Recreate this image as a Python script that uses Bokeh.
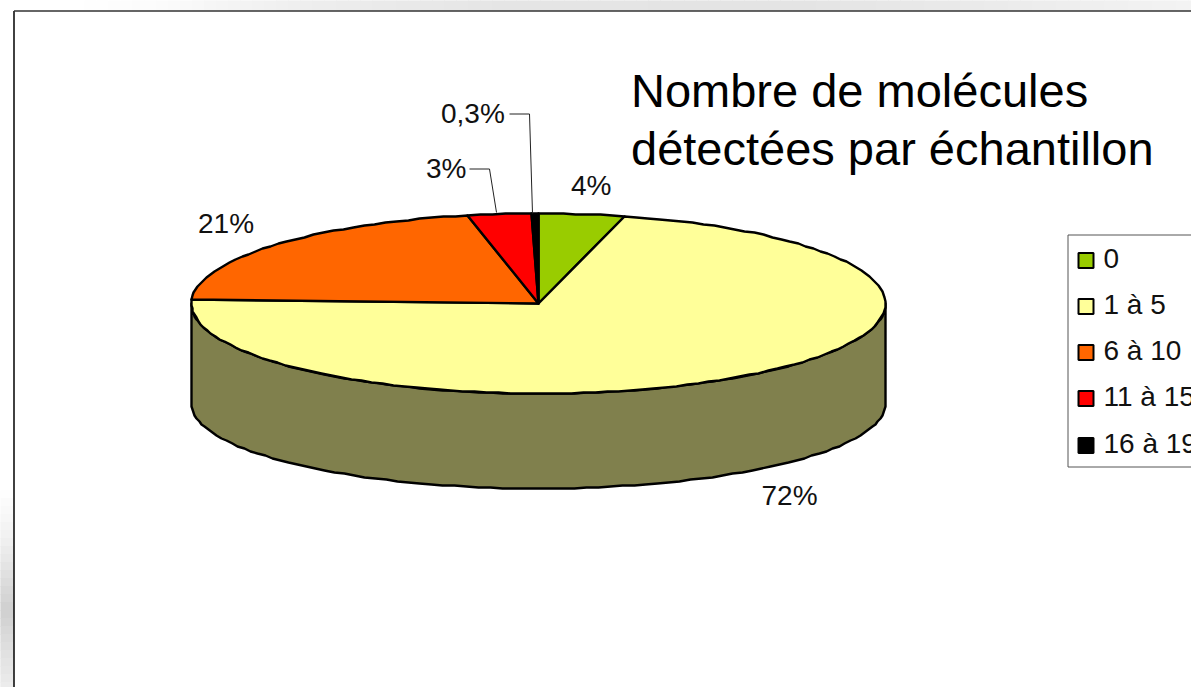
import numpy as np
from bokeh.plotting import figure
from bokeh.models import Range1d
from bokeh.core.properties import value
from bokeh.embed import file_html
from bokeh.resources import INLINE

# --- data ---
categories = ["0", "1 à 5", "6 à 10", "11 à 15", "16 à 19"]
shares = [4, 72, 21, 3, 0.3]
share_labels = ["4%", "72%", "21%", "3%", "0,3%"]
title_lines = ["Nombre de molécules", "détectées par échantillon"]

# --- styles ---
slice_colors = ["#99CC00", "#FFFF99", "#FF6600", "#FF0000", "#000000"]
side_colors = ["#4D6600", "#80804D", "#803300", "#800000", "#000000"]
FONT = value("Liberation Sans")

# --- layout (picture pixels) ---
W, H = 1191, 687
CX, CY, RX, RY = 538, 303, 347, 90
BOTTOM_CY, BOTTOM_RY = 403, 85
STEP_DEG = 2
label_x = [570.5, 761, 197.5, 425.5, 440.5]
label_y = [184.5, 495, 223, 168, 113]
leaders = {3: ([469, 489, 496], [168.5, 168.5, 212]), 4: ([509, 529, 532], [113.5, 113.5, 213])}
title_x, title_y = 630.5, [90, 148]
legend_left, legend_top, legend_bottom = 1067.5, 234.5, 466.5
swatch_x, swatch_size = 1085.5, 15
legend_y = [260, 306, 352, 398, 445]
legend_text_x, legend_text_y = 1103, [258, 304, 350, 396, 443]
top_stops = ([0, 70, 150, 300, 500, 800, 1000, 1191], [255, 255, 252, 238, 229, 228, 235, 243])
left_stops = ([490, 540, 610, 650, 687], [255, 240, 207, 224, 236])

p = figure(width=W, height=H, output_backend="svg", toolbar_location=None,
           x_range=Range1d(0, W), y_range=Range1d(H, 0), min_border=0,
           outline_line_color=None, background_fill_color="white",
           border_fill_color="white")
p.axis.visible = False
p.grid.visible = False


def grey(v):
    v = int(round(v))
    return f"#{v:02x}{v:02x}{v:02x}"


# page shadow outside the frame
xs = np.arange(0, W, 12)
top_colors = [grey(g) for g in np.interp(xs + 6, *top_stops)]
p.quad(left=xs, right=xs + 12, top=0, bottom=10, fill_color=top_colors, line_color=top_colors, line_width=1)
ys = np.arange(left_stops[0][0], H, 8)
left_colors = [grey(g) for g in np.interp(ys + 4, *left_stops)]
p.quad(left=0, right=13, top=ys, bottom=ys + 8, fill_color=left_colors, line_color=left_colors, line_width=1)

# frame
p.line([13.5, 13.5], [H, 10.5], line_color="#111111", line_width=1.6)
p.line([13.5, W], [10.5, 10.5], line_color="#333333", line_width=1.5)

# pie angles, clockwise from the top
fractions = np.array(shares, dtype=float) / np.sum(shares)
edges = np.concatenate([[0], np.cumsum(fractions) * 360])


def ang(a, b):
    n = max(int(abs(b - a) / STEP_DEG), 1)
    return np.radians(np.linspace(a, b, n + 1))


# side wall: front half only (90..270 degrees)
for a, b, c in zip(edges[:-1], edges[1:], side_colors):
    lo, hi = max(a, 90), min(b, 270)
    if hi <= lo:
        continue
    t = ang(lo, hi)
    x = np.round(CX + RX * np.sin(t))
    y_top = np.round(CY - RY * np.cos(t))
    y_bot = np.round(BOTTOM_CY - BOTTOM_RY * np.cos(t))
    p.patch(np.concatenate([x, x[::-1]]), np.concatenate([y_top, y_bot[::-1]]),
            fill_color=c, line_color="black", line_width=2.4, line_join="round")

# top face
for a, b, c in zip(edges[:-1], edges[1:], slice_colors):
    t = ang(a, b)
    x = np.round(CX + RX * np.sin(t))
    y = np.round(CY - RY * np.cos(t))
    p.patch(np.concatenate([[CX], x]), np.concatenate([[CY], y]),
            fill_color=c, line_color="black", line_width=2.4, line_join="round")

# leader lines and share labels
for xv, yv in leaders.values():
    p.line(xv, yv, line_color="#222222", line_width=1)
p.text(label_x, label_y, text=share_labels, text_font=FONT, text_font_size="28px",
       text_color="#111111", text_baseline="middle")

# title
p.text([title_x] * 2, title_y, text=title_lines, text_font=FONT, text_font_size="47px",
       text_color="black", text_baseline="middle")

# legend
p.quad(left=legend_left, right=W + 20, top=legend_top, bottom=legend_bottom,
       fill_color="white", line_color="#555555", line_width=1)
p.scatter([swatch_x] * 5, legend_y, marker="square", size=swatch_size,
          fill_color=slice_colors, line_color="black", line_width=2)
p.text([legend_text_x] * 5, legend_text_y, text=categories, text_font=FONT,
       text_font_size="28px", text_color="#111111", text_baseline="middle")

open("out.html", "w").write(file_html(p, INLINE))
